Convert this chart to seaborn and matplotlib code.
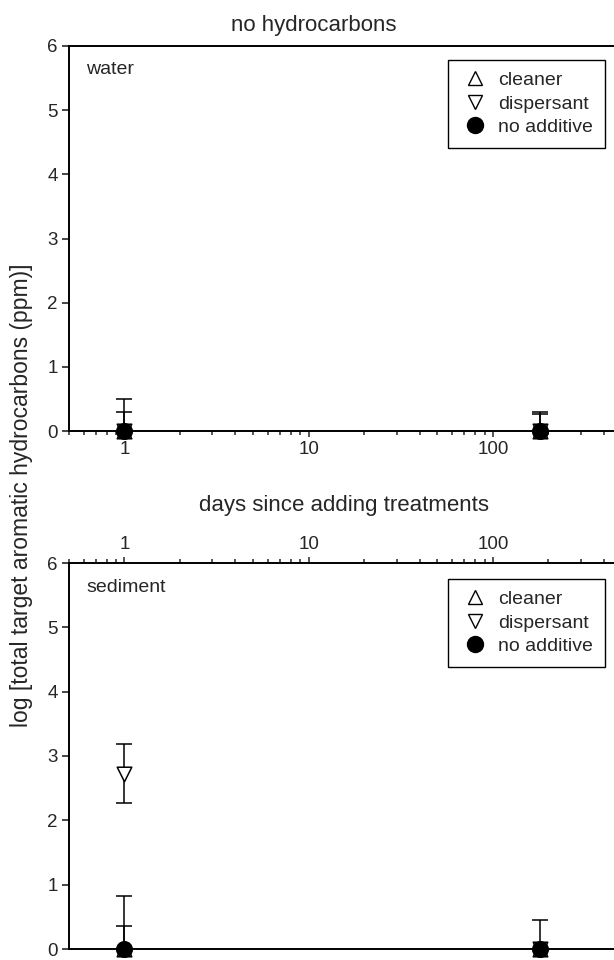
import numpy as np
import pandas as pd
import matplotlib
matplotlib.use("Agg")
import matplotlib.pyplot as plt
import seaborn as sns
from matplotlib.lines import Line2D

# ---- data ----
days = [1, 180]
series = ["cleaner", "dispersant", "no additive"]

water_cleaner = [0.0, 0.0]
water_cleaner_up = [0.30, 0.27]
water_dispersant = [0.0, 0.0]
water_dispersant_up = [0.0, 0.0]
water_noadd = [0.0, 0.0]
water_noadd_up = [0.50, 0.30]

sed_cleaner = [0.0, 0.0]
sed_cleaner_up = [0.35, 0.0]
sed_dispersant = [2.72, 0.0]
sed_dispersant_up = [0.46, 0.0]
sed_dispersant_lo = [0.45, 0.0]
sed_noadd = [0.0, 0.0]
sed_noadd_up = [0.82, 0.45]

yticks = [0, 1, 2, 3, 4, 5, 6]
xticks = [1, 10, 100]
xtick_labels = ["1", "10", "100"]

sns.set_style("ticks")
plt.rcParams["font.family"] = ["Liberation Sans", "DejaVu Sans"]

W, H = 614, 960
fig = plt.figure(figsize=(W / 100, H / 100), dpi=100)

def px(x0, y0, x1, y1):
    return [x0 / W, 1 - y1 / H, (x1 - x0) / W, (y1 - y0) / H]

x_right = 124.3 + 3 * 184.3
ax1 = fig.add_axes(px(69, 46, x_right, 431))
ax2 = fig.add_axes(px(69, 563, x_right, 949))

styles = {
    "cleaner": dict(marker="^", facecolor="white", edgecolor="black"),
    "dispersant": dict(marker="v", facecolor="white", edgecolor="black"),
    "no additive": dict(marker="o", facecolor="black", edgecolor="black"),
}
sizes = {"cleaner": 110, "dispersant": 110, "no additive": 125}

def panel(ax, vals, ups, los):
    rows = []
    for s, v in zip(series, vals):
        for d, y in zip(days, v):
            rows.append(dict(day=d, value=y, series=s))
    df = pd.DataFrame(rows)
    for s, up, lo in zip(series, ups, los):
        v = np.array(df[df.series == s].value)
        up = np.array(up); lo = np.array(lo)
        mask = (up > 0) | (lo > 0)
        if mask.any():
            ax.errorbar(np.array(days)[mask], v[mask],
                        yerr=[lo[mask], up[mask]], fmt="none", ecolor="black",
                        elinewidth=1.1, capsize=6, capthick=1.1, clip_on=False, zorder=2)
    for s in series:
        sub = df[df.series == s]
        sns.scatterplot(data=sub, x="day", y="value", ax=ax, marker=styles[s]["marker"],
                        s=sizes[s], facecolor=styles[s]["facecolor"],
                        edgecolor=styles[s]["edgecolor"], linewidth=1.1,
                        clip_on=False, zorder=3, legend=False)
    ax.set_xscale("log")
    ax.set_xlim(0.5, 1000)
    ax.set_ylim(0, 6)
    ax.set_yticks(yticks)
    ax.set_xlabel("")
    ax.set_ylabel("")
    ax.spines["right"].set_visible(False)
    for sp in ["left", "top", "bottom"]:
        ax.spines[sp].set_linewidth(1.4)
        ax.spines[sp].set_color("black")
    ax.tick_params(axis="y", direction="out", length=5, width=1.2, labelsize=13.5, pad=3)
    ax.tick_params(axis="x", which="both", direction="out", width=1.1, labelsize=13.5)
    ax.tick_params(axis="x", which="major", length=4)
    ax.tick_params(axis="x", which="minor", length=3)
    handles = [Line2D([], [], linestyle="none", marker=styles[s]["marker"], markersize=10,
                      markerfacecolor=styles[s]["facecolor"], markeredgecolor="black",
                      markeredgewidth=1.0) for s in series]
    handles[2].set_markersize(11.5)
    return handles

h = panel(ax1, [water_cleaner, water_dispersant, water_noadd],
          [water_cleaner_up, water_dispersant_up, water_noadd_up],
          [[0, 0], [0, 0], [0, 0]])
panel(ax2, [sed_cleaner, sed_dispersant, sed_noadd],
      [sed_cleaner_up, sed_dispersant_up, sed_noadd_up],
      [[0, 0], sed_dispersant_lo, [0, 0]])

fig.text(86 / W, 1 - 70 / H, "water", fontsize=14, va="center", ha="left")
fig.text(86 / W, 1 - 588 / H, "sediment", fontsize=14, va="center", ha="left")

ax1.set_xticks(xticks)
ax1.set_xticklabels(xtick_labels)
ax1.xaxis.set_ticks_position("bottom")

ax2.set_xticks(xticks)
ax2.set_xticklabels(xtick_labels)
ax2.xaxis.set_ticks_position("top")
ax2.xaxis.set_label_position("top")

for ax, top in [(ax1, 60), (ax2, 579)]:
    leg = ax.legend(h, series, loc="upper right",
                    bbox_to_anchor=(605 / W, 1 - top / H), bbox_transform=fig.transFigure,
                    fontsize=14, frameon=True, fancybox=False, framealpha=1,
                    edgecolor="black", borderpad=0.6, labelspacing=0.3,
                    handletextpad=0.4, handlelength=1.6, borderaxespad=0)
    leg.get_frame().set_linewidth(1.0)

fig.text(314 / W, 1 - 26 / H, "no hydrocarbons", fontsize=16, ha="center", va="center")
fig.text(344 / W, 1 - 506 / H, "days since adding treatments", fontsize=16,
         ha="center", va="center")
fig.text(22 / W, 1 - 495 / H, "log [total target aromatic hydrocarbons (ppm)]",
         fontsize=16.5, rotation=90, ha="center", va="center")

fig.savefig("out.png", dpi=100)
